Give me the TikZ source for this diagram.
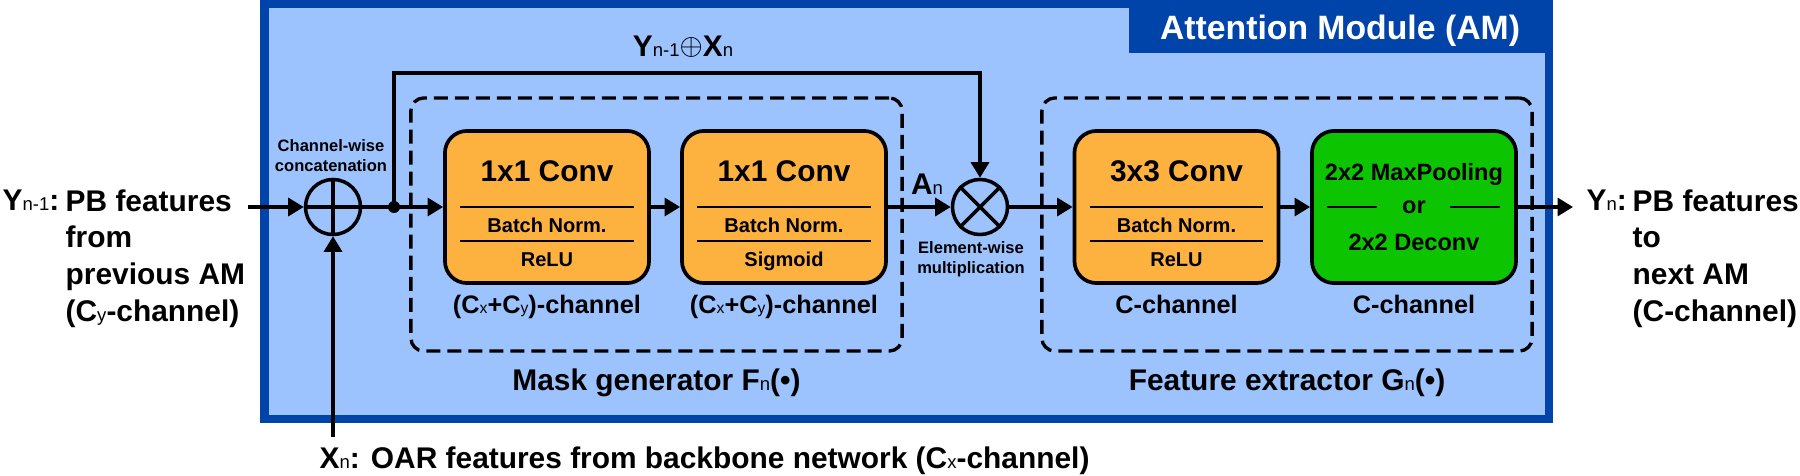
\documentclass[tikz,border=0pt]{standalone}
\usepackage{fontspec}
\setmainfont{Liberation Sans}
\usetikzlibrary{arrows.meta,calc}
\definecolor{amdark}{RGB}{0,68,170}
\definecolor{amlight}{RGB}{157,195,255}
\definecolor{amorange}{RGB}{253,178,64}
\definecolor{amgreen}{RGB}{12,196,0}
\newcommand\sbs[1]{\scalebox{0.62}{\mdseries #1}}
\newcommand\fmain{\fontsize{8.5}{10.4}\selectfont\bfseries}
\newcommand\fbtitle{\fontsize{8.5}{10}\selectfont\bfseries}
\newcommand\fbsub{\fontsize{5.7}{7}\selectfont\bfseries}
\newcommand\fchan{\fontsize{7.2}{8}\selectfont\bfseries}
\newcommand\fgreen{\fontsize{6.7}{8}\selectfont\bfseries}
\newcommand\fsmall{\fontsize{4.7}{5.6}\selectfont\bfseries}
\newcommand\ftitle{\fontsize{9.6}{11}\selectfont\bfseries}
\tikzset{
  blk/.style={draw=black, line width=1.05pt, rounded corners=0.22cm, minimum width=2.04cm,
    minimum height=1.52cm, fill=amorange, inner sep=0pt},
  conn/.style={line width=0.95pt, -{Triangle[length=0.155cm,width=0.18cm]}},
  sepline/.style={line width=0.55pt},
  dbox/.style={draw=black, line width=0.95pt, dash pattern=on 0.14cm off 0.07cm,
    rounded corners=0.13cm, inner sep=0pt},
  opnode/.style={circle, draw=black, line width=1pt, minimum size=0.55cm, inner sep=0pt},
  dotnode/.style={circle, fill=black, minimum size=0.12cm, inner sep=0pt},
  txt/.style={inner sep=0pt, anchor=base},
}
\begin{document}
\begin{tikzpicture}[x=0.01cm, y=-0.01cm]
\useasboundingbox (0,0) rectangle (1800,476);
% frame
\fill[amdark] (260,0) rectangle (1553,423);
\fill[amlight] (269,8) rectangle (1545,415);
\fill[amdark] (1129,0) rectangle (1553,53);
\node[txt, font=\ftitle, text=white] (title) at (1340,40) {Attention Module (AM)};

% dashed groups
\node[dbox, minimum width=4.91cm, minimum height=2.53cm] (mg) at (656.5,224.5) {};
\node[dbox, minimum width=4.90cm, minimum height=2.53cm] (fe) at (1287,224.5) {};
\node[txt, font=\fmain] (mglab) at (656.5,390) {Mask generator F\sbs{n}(•)};
\node[txt, font=\fmain] (felab) at (1287,390) {Feature extractor G\sbs{n}(•)};

% blocks
\node[blk] (b1) at (547,207) {};
\node[blk] (b2) at (784,207) {};
\node[blk] (b3) at (1176.5,207) {};
\node[blk, fill=amgreen] (b4) at (1414,207) {};

\node[txt, font=\fbtitle] (b1t) at (547,182) {1x1 Conv};
\node[txt, font=\fbsub] (b1m) at (547,232) {Batch Norm.};
\node[txt, font=\fbsub] (b1b) at (547,267) {ReLU};
\draw[sepline] ($(b1.west)+(17,0)$) -- ($(b1.east)+(-17,0)$);
\draw[sepline] ($(b1.west)+(17,34)$) -- ($(b1.east)+(-17,34)$);

\node[txt, font=\fbtitle] (b2t) at (784,182) {1x1 Conv};
\node[txt, font=\fbsub] (b2m) at (784,232) {Batch Norm.};
\node[txt, font=\fbsub] (b2b) at (784,267) {Sigmoid};
\draw[sepline] ($(b2.west)+(17,0)$) -- ($(b2.east)+(-17,0)$);
\draw[sepline] ($(b2.west)+(17,34)$) -- ($(b2.east)+(-17,34)$);

\node[txt, font=\fbtitle] (b3t) at (1176.5,182) {3x3 Conv};
\node[txt, font=\fbsub] (b3m) at (1176.5,232) {Batch Norm.};
\node[txt, font=\fbsub] (b3b) at (1176.5,267) {ReLU};
\draw[sepline] ($(b3.west)+(17,0)$) -- ($(b3.east)+(-17,0)$);
\draw[sepline] ($(b3.west)+(17,34)$) -- ($(b3.east)+(-17,34)$);

\node[txt, font=\fgreen] (b4t) at (1414,180) {2x2 MaxPooling};
\node[txt, font=\fgreen] (b4m) at (1414,213) {or};
\node[txt, font=\fgreen] (b4b) at (1414,251) {2x2 Deconv};
\draw[sepline] ($(b4.west)+(17,0)$) -- ($(b4.west)+(67,0)$);
\draw[sepline] ($(b4.east)+(-68,0)$) -- ($(b4.east)+(-18,0)$);

\node[txt, font=\fchan] (c1) at (547,313) {(C\sbs{x}+C\sbs{y})-channel};
\node[txt, font=\fchan] (c2) at (784,313) {(C\sbs{x}+C\sbs{y})-channel};
\node[txt, font=\fchan] (c3) at (1176.5,313) {C-channel};
\node[txt, font=\fchan] (c4) at (1414,313) {C-channel};

% operators
\node[opnode] (op) at (333,207) {};
\draw[line width=1pt] (op.north) -- (op.south) (op.west) -- (op.east);
\node[opnode] (om) at (980,207) {};
\draw[line width=1pt] (om.north east) -- (om.south west) (om.north west) -- (om.south east);
\node[txt, font=\fsmall] (cw1) at (331,152) {Channel-wise};
\node[txt, font=\fsmall] (cw2) at (331,172) {concatenation};
\node[txt, font=\fsmall] (ew1) at (971,253) {Element-wise};
\node[txt, font=\fsmall] (ew2) at (971,273) {multiplication};

% connectors
\coordinate (yin) at (248,207);
\coordinate (xin) at (333,437);
\coordinate (yout) at (1573,207);
\coordinate (topc) at (394,73);
\node[dotnode] (dot) at (394,207) {};
\draw[conn] (yin) -- (op.west);
\draw[conn] (xin) -- (op.south);
\draw[conn] (op.east) -- (b1.west);
\draw[conn] (dot.center) -- (topc) -| (om.north);
\draw[conn] (b1.east) -- (b2.west);
\draw[conn] (b2.east) -- (om.west);
\draw[conn] (om.east) -- (b3.west);
\draw[conn] (b3.east) -- (b4.west);
\draw[conn] (b4.east) -- (yout);

\node[txt, font=\fmain] (sumlab) at (683,57) {Y\sbs{n-1}\raisebox{0.7pt}{\fontsize{7.6}{7.6}\selectfont$\oplus$}X\sbs{n}};
\node[txt, font=\fmain] (anlab) at (927,195) {A\sbs{n}};

% outside labels
\node[inner sep=0pt, anchor=base west, font=\fmain] (ylab) at (2,211) {Y\sbs{n-1}:};
\node[inner sep=0pt, anchor=north west, align=left, font=\fmain] (ytxt) at (65,189)
  {PB features\\from\\previous AM\\(C\sbs{y}-channel)};
\node[inner sep=0pt, anchor=base west, font=\fmain] (ynlab) at (1586,211) {Y\sbs{n}:};
\node[inner sep=0pt, anchor=north west, align=left, font=\fmain] (yntxt) at (1632,189)
  {PB features\\to\\next AM\\(C-channel)};
\node[inner sep=0pt, anchor=base west, font=\fmain] (xlab) at (319,468)
  {X\sbs{n}: OAR features from backbone network (C\sbs{x}-channel)};
\end{tikzpicture}
\end{document}
